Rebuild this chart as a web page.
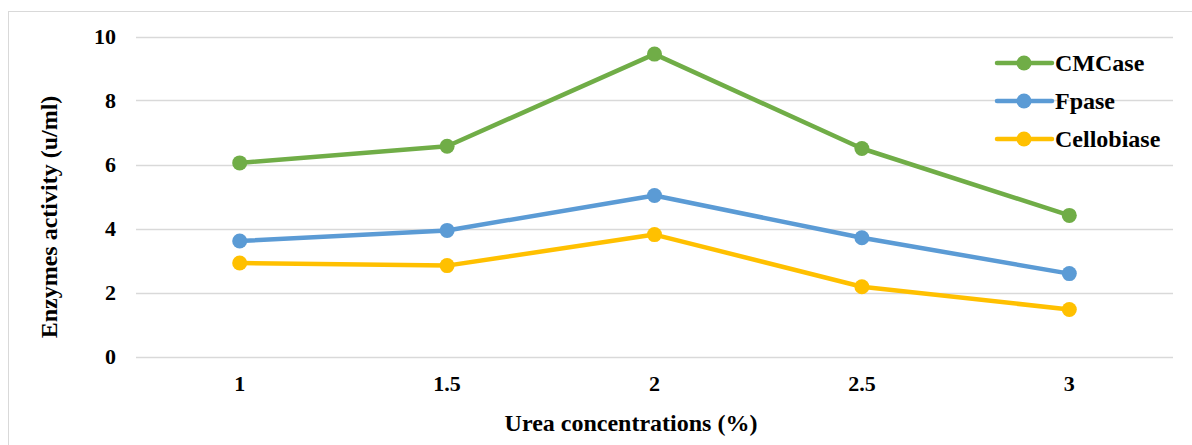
<!DOCTYPE html>
<html>
  <head>
    <meta charset="UTF-8" />
    <script src="https://cdn.jsdelivr.net/npm/d3@7"></script>
    <style>
      body { margin: 0; background: #fff; }
      svg { display: block; }
      svg text { font-family: 'Liberation Serif', 'Times New Roman', 'DejaVu Serif', serif; font-weight: bold; }
    </style>
  </head>
  <body>
    <svg></svg>
    <script>
      // data
      const categories = ['1', '1.5', '2', '2.5', '3'];
      const cmcase = [6.05, 6.57, 9.45, 6.5, 4.41];
      const fpase = [3.61, 3.94, 5.03, 3.71, 2.59];
      const cellobiase = [2.92, 2.84, 3.81, 2.18, 1.47];
      const yTicks = [0, 2, 4, 6, 8, 10];

      const series = [
        { name: 'CMCase', values: cmcase, color: '#70AD47' },
        { name: 'Fpase', values: fpase, color: '#5B9BD5' },
        { name: 'Cellobiase', values: cellobiase, color: '#FFC000' },
      ];

      const width = 1192;
      const height = 445;

      const svg = d3
        .select('svg')
        .attr('width', width)
        .attr('height', height);

      // chart border
      svg
        .append('rect')
        .attr('x', 8.5)
        .attr('y', 11.5)
        .attr('width', width)
        .attr('height', height)
        .attr('fill', 'none')
        .attr('stroke', '#d9d9d9')
        .attr('stroke-width', 1);

      const plot = { left: 136, right: 1173, top: 36.5, bottom: 356.5 };

      const x = d3
        .scaleBand()
        .domain(categories)
        .range([plot.left, plot.right]);

      const y = d3
        .scaleLinear()
        .domain([0, 10])
        .range([plot.bottom, plot.top]);

      // gridlines
      svg
        .append('g')
        .selectAll('line')
        .data(yTicks)
        .join('line')
        .attr('x1', plot.left)
        .attr('x2', plot.right)
        .attr('y1', (d) => Math.round(y(d)) + 0.5)
        .attr('y2', (d) => Math.round(y(d)) + 0.5)
        .attr('stroke', '#d9d9d9')
        .attr('stroke-width', 1.5);

      // y tick labels
      svg
        .append('g')
        .selectAll('text')
        .data(yTicks)
        .join('text')
        .attr('x', 116)
        .attr('y', (d) => y(d))
        .attr('dy', '0.34em')
        .attr('text-anchor', 'end')
        .attr('font-size', 22)
        .text((d) => d);

      // x tick labels
      svg
        .append('g')
        .selectAll('text')
        .data(categories)
        .join('text')
        .attr('x', (d) => x(d) + x.bandwidth() / 2)
        .attr('y', 391)
        .attr('text-anchor', 'middle')
        .attr('font-size', 22)
        .text((d) => d);

      // axis titles
      svg
        .append('text')
        .attr('x', 631)
        .attr('y', 431)
        .attr('text-anchor', 'middle')
        .attr('font-size', 24)
        .text('Urea concentrations (%)');

      svg
        .append('text')
        .attr('transform', 'translate(57,217) rotate(-90)')
        .attr('text-anchor', 'middle')
        .attr('font-size', 24)
        .text('Enzymes activity (u/ml)');

      // lines
      const line = d3
        .line()
        .x((d, i) => x(categories[i]) + x.bandwidth() / 2)
        .y((d) => y(d));

      const g = svg
        .append('g')
        .selectAll('g')
        .data(series)
        .join('g');

      g.append('path')
        .attr('d', (s) => line(s.values))
        .attr('fill', 'none')
        .attr('stroke', (s) => s.color)
        .attr('stroke-width', 4.5)
        .attr('stroke-linejoin', 'round')
        .attr('stroke-linecap', 'round');

      g.selectAll('circle')
        .data((s) => s.values.map((v, i) => ({ v, i, color: s.color })))
        .join('circle')
        .attr('cx', (d) => x(categories[d.i]) + x.bandwidth() / 2)
        .attr('cy', (d) => y(d.v))
        .attr('r', 7.5)
        .attr('fill', (d) => d.color);

      // legend
      const legend = svg
        .append('g')
        .selectAll('g')
        .data(series)
        .join('g')
        .attr('transform', (d, i) => `translate(997,${63 + i * 38})`);

      legend
        .append('line')
        .attr('x1', 0)
        .attr('x2', 55)
        .attr('stroke', (d) => d.color)
        .attr('stroke-width', 4.5)
        .attr('stroke-linecap', 'round');

      legend
        .append('circle')
        .attr('cx', 27)
        .attr('r', 7.5)
        .attr('fill', (d) => d.color);

      legend
        .append('text')
        .attr('x', 58)
        .attr('dy', '0.34em')
        .attr('font-size', 24)
        .text((d) => d.name);
    </script>
  </body>
</html>
